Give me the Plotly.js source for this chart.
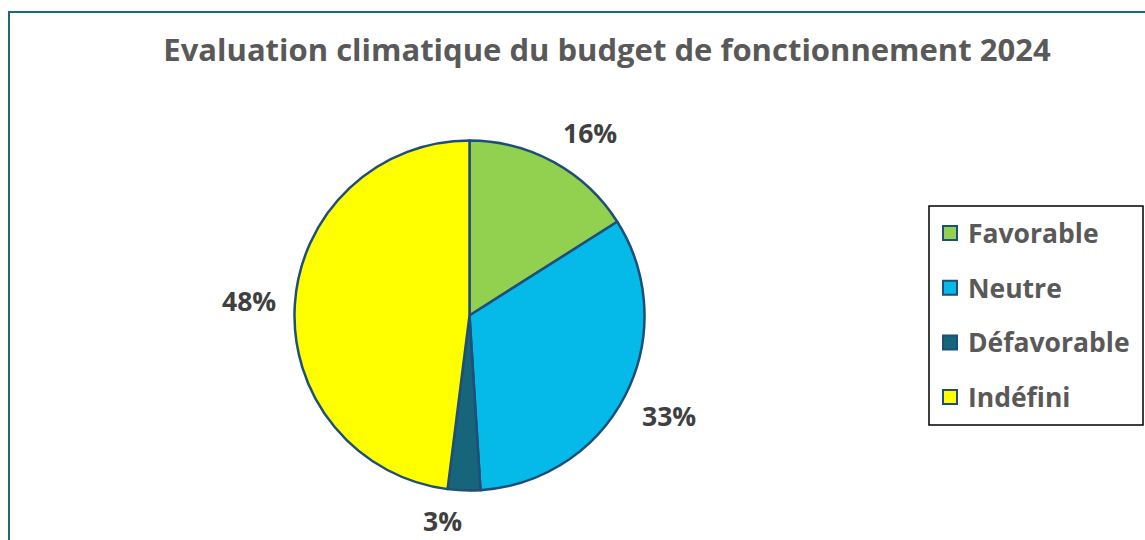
<!DOCTYPE html>
<html>
<head>
<meta charset="utf-8">
<script src="https://cdn.plot.ly/plotly-3.0.1.min.js"></script>
<style>html,body{margin:0;padding:0;background:#fff;}#chart{width:1145px;height:540px;}</style>
</head>
<body>
<div id="chart"></div>
<script>
const categories = ["Favorable", "Neutre", "Défavorable", "Indéfini"];
const values = [16, 33, 3, 48];
const labels = ["16%", "33%", "3%", "48%"];
const colors = ["#92D050", "#05BAE8", "#17657A", "#FFFF00"];

const W = 1145, H = 540;
const cx = 469.5, cy = 315.5, R = 175;
const FONT = "'Open Sans', Lato, sans-serif";

const total = values.reduce((a, b) => a + b, 0);
const annotations = [];
let cum = 0;
values.forEach((v, i) => {
  const mid = (cum + v / 2) / total * 2 * Math.PI;
  cum += v;
  const d = R + 18;
  const s = Math.sin(mid), c = Math.cos(mid);
  const px = cx + d * s;
  const py = cy - d * c - 13 * Math.max(-1, Math.min(1, c * 2.5));
  annotations.push({
    xref: "paper", yref: "paper",
    x: px / W,
    y: 1 - py / H,
    text: "<b>" + labels[i] + "</b>",
    showarrow: false, xanchor: s >= 0 ? "left" : "right", yanchor: "middle",
    borderpad: 0,
    font: {family: FONT, size: 26.5, color: "#404040"}
  });
});

const shapes = [
  {type: "rect", xref: "paper", yref: "paper", x0: 9 / W, x1: 1160 / W, y0: 1 - 560 / H, y1: 1 - 12 / H,
   line: {color: "#1A6A7A", width: 2}, fillcolor: "rgba(0,0,0,0)"},
  {type: "rect", xref: "paper", yref: "paper", x0: 929 / W, x1: 1143 / W, y0: 1 - 425 / H, y1: 1 - 206 / H,
   line: {color: "#000000", width: 1.5}, fillcolor: "rgba(0,0,0,0)"}
];
categories.forEach((cat, i) => {
  const yc = 233 + i * 54.7;
  shapes.push({type: "rect", xref: "paper", yref: "paper",
    x0: 943 / W, x1: 957 / W, y0: 1 - (yc + 7) / H, y1: 1 - (yc - 7) / H,
    line: {color: "#1F4E79", width: 2}, fillcolor: colors[i]});
  annotations.push({xref: "paper", yref: "paper", x: 966 / W, y: 1 - yc / H,
    text: "<b>" + cat + "</b>", showarrow: false, xanchor: "left", yanchor: "middle",
    font: {family: FONT, size: 26.5, color: "#595959"}});
});

const trace = {
  type: "pie",
  labels: categories,
  values: values,
  sort: false,
  direction: "clockwise",
  rotation: 0,
  textinfo: "none",
  hoverinfo: "label+percent",
  marker: {colors: colors, line: {color: "#1F4E79", width: 2.5}},
  domain: {x: [(cx - R) / W, (cx + R) / W], y: [1 - (cy + R) / H, 1 - (cy - R) / H]},
  showlegend: false
};

const layout = {
  width: W, height: H,
  margin: {l: 0, r: 0, t: 0, b: 0},
  paper_bgcolor: "#ffffff",
  showlegend: false,
  title: {text: "<b>Evaluation climatique du budget de fonctionnement 2024</b>",
          x: 607 / W, xanchor: "center", y: 1 - 50 / H, yanchor: "middle",
          font: {family: FONT, size: 31, color: "#595959"}},
  annotations: annotations,
  shapes: shapes
};

Plotly.newPlot("chart", [trace], layout, {displayModeBar: false, staticPlot: true});
</script>
</body>
</html>
